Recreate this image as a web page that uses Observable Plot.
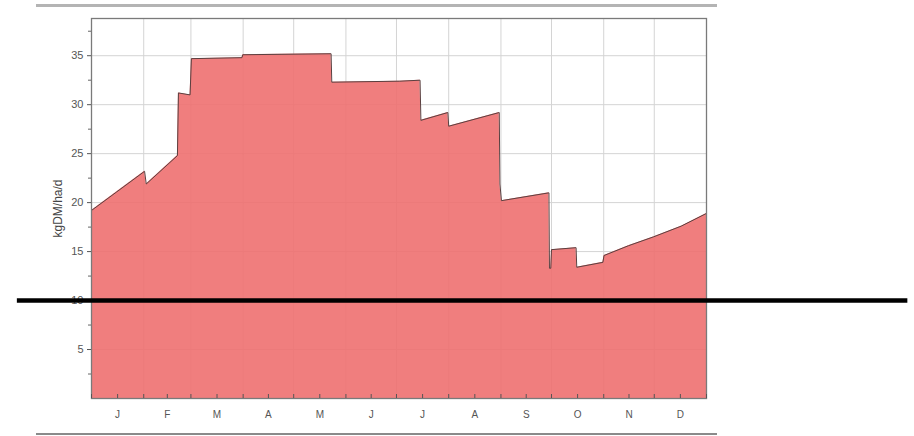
<!DOCTYPE html>
<html><head><meta charset="utf-8">
<script src="https://cdn.jsdelivr.net/npm/d3@7"></script>
<script src="https://cdn.jsdelivr.net/npm/@observablehq/plot@0.6"></script>
<style>
body{margin:0;background:#fff;font-family:"Liberation Sans",Arial,sans-serif;}
#wrap{position:relative;width:914px;height:436px;overflow:hidden;}
#wrap svg{position:absolute;left:0;top:0;overflow:visible;}
.bar{position:absolute;left:36px;width:681px;}
</style></head><body>
<div id="wrap">
  <div class="bar" style="top:4px;height:3px;background:#b4b4b4;"></div>
  <div class="bar" style="top:433px;height:2px;background:#8a8a8a;"></div>
</div>
<script>
// Day of year (0-365) and growth rate (kgDM/ha/d)
const days   = [0, 15, 31.5, 32.5, 51, 51.6, 58.5, 59.3, 89.3, 89.8, 142.2, 142.6, 183, 195, 195.5, 211.5, 212, 242, 242.4, 243.3, 271.5, 271.8, 272.6, 273, 287.6, 288, 303.5, 304.2, 318.7, 333.5, 350, 365];
const values = [19.2, 21.1, 23.2, 21.9, 24.8, 31.2, 31.0, 34.7, 34.8, 35.1, 35.2, 32.3, 32.4, 32.5, 28.4, 29.2, 27.8, 29.2, 21.9, 20.2, 21.0, 13.3, 13.3, 15.2, 15.4, 13.4, 13.9, 14.6, 15.6, 16.5, 17.6, 18.9];

const monthStarts = [0, 31, 59, 90, 120, 151, 181, 212, 243, 273, 304, 334, 365];
const monthMids   = [15.5, 45, 74.5, 105, 135.5, 166, 196.5, 227.5, 258, 288.5, 319, 349.5];
const monthLabels = ["J", "F", "M", "A", "M", "J", "J", "A", "S", "O", "N", "D"];
const yTicks      = [5, 10, 15, 20, 25, 30, 35];
const yMinorTicks = [2.5, 7.5, 12.5, 17.5, 22.5, 27.5, 32.5, 37.5];
const yMax = 38.8;
const yLabel = "kgDM/ha/d";
const refValue = [10];
const refFrom = [-44];
const refTo = [484.5];

const data = days.map((d, i) => ({day: d, value: values[i]}));
const refs = refValue.map((v, i) => ({value: v, from: refFrom[i], to: refTo[i]}));
const xMinor = monthStarts.concat(monthMids);

const chart = Plot.plot({
  width: 914,
  height: 436,
  marginLeft: 91,
  marginRight: 208,
  marginTop: 18,
  marginBottom: 38,
  style: {fontFamily: "'Liberation Sans', Arial, sans-serif", background: "transparent", color: "#555"},
  x: {domain: [0, 365]},
  y: {domain: [0, yMax]},
  marks: [
    Plot.ruleY(yTicks, {stroke: "#d4d4d4", strokeWidth: 1}),
    Plot.ruleX(monthStarts, {stroke: "#d4d4d4", strokeWidth: 1}),
    Plot.areaY(data, {x: "day", y: "value", fill: "rgb(238,112,112)", fillOpacity: 0.9}),
    Plot.lineY(data, {x: "day", y: "value", stroke: "#5a4040", strokeWidth: 1}),
    Plot.frame({stroke: "#7a7a7a", strokeWidth: 1.3}),
    Plot.axisY(yTicks, {tickSize: 4, tickPadding: 4, fontSize: 11, fill: "#555", stroke: "#555", label: null}),
    Plot.axisY(yMinorTicks, {tickSize: 3, text: null, label: null, stroke: "#666"}),
    Plot.text([yLabel], {frameAnchor: "left", dx: -33, rotate: -90, textAnchor: "middle", lineAnchor: "middle",
      fontSize: 12, fill: "#444"}),
    Plot.axisX(monthMids, {tickSize: 0, tickPadding: 12, fontSize: 10, fill: "#555",
      tickFormat: d => monthLabels[monthMids.indexOf(d)], label: null}),
    Plot.axisX(xMinor, {tickSize: -4, text: null, label: null, stroke: "#555"}),
    Plot.ruleY(refs, {y: "value", x1: "from", x2: "to", stroke: "#000", strokeWidth: 4.5, clip: false})
  ]
});
document.getElementById("wrap").appendChild(chart);
</script>
</body></html>
